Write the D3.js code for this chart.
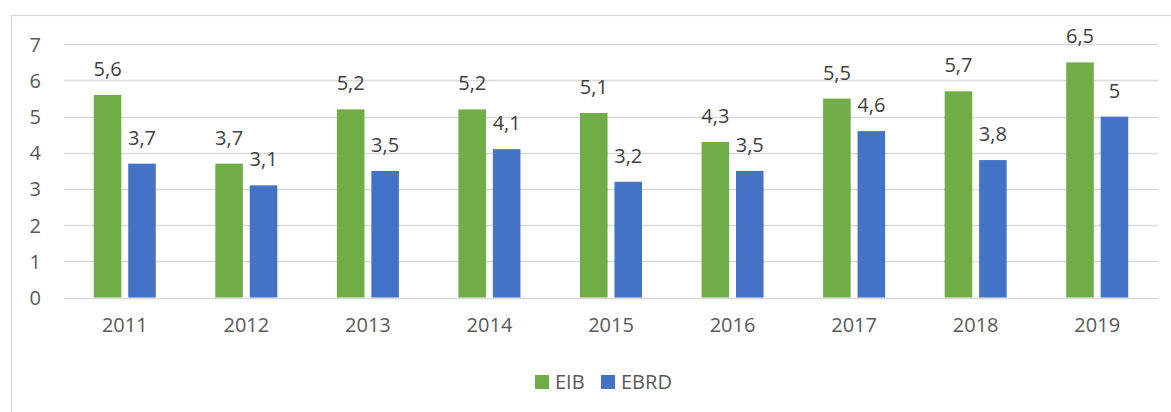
<!DOCTYPE html>
<html><head><meta charset="utf-8">
<script src="https://cdn.jsdelivr.net/npm/d3@7"></script>
<style>html,body{margin:0;padding:0;background:#fff;}svg{display:block;font-family:"Open Sans",sans-serif;}</style>
</head><body>
<script>
const categories = ["2011","2012","2013","2014","2015","2016","2017","2018","2019"];
const seriesNames = ["EIB","EBRD"];
const eib = [5.6,3.7,5.2,5.2,5.1,4.3,5.5,5.7,6.5];
const ebrd = [3.7,3.1,3.5,4.1,3.2,3.5,4.6,3.8,5.0];
const yTicks = [0,1,2,3,4,5,6,7];
const colors = ["#70AD47","#4472C4"];

const W = 1171, H = 412;
const svg = d3.select("body").append("svg").attr("width", W).attr("height", H);

// frame
svg.append("rect").attr("x",11.5).attr("y",15.5).attr("width",W+10).attr("height",H+10)
  .attr("fill","none").attr("stroke","#D9D9D9").attr("stroke-width",1.3);

const plotL = 64, plotR = 1158;
const y = d3.scaleLinear().domain([0,7]).range([297.5, 44.3]);
const x0 = d3.scaleBand().domain(categories).range([plotL, plotR]).paddingInner(0.49).paddingOuter(0.245);
const x1 = d3.scaleBand().domain(seriesNames).range([0, x0.bandwidth()]).paddingInner(0.2).paddingOuter(0);

// gridlines
svg.append("g").selectAll("line").data(yTicks).join("line")
  .attr("x1", plotL).attr("x2", plotR)
  .attr("y1", d => Math.round(y(d))+0.5).attr("y2", d => Math.round(y(d))+0.5)
  .attr("stroke","#D9D9D9").attr("stroke-width",1.3);

// y axis labels
const yAxis = d3.axisLeft(y).tickValues(yTicks).tickSize(0).tickPadding(0).tickFormat(d3.format("d"));
const gy = svg.append("g").attr("transform","translate(41,0)").call(yAxis);
gy.select(".domain").remove();
gy.selectAll("text").attr("fill","#595959").style("font-size","20px").style("font-family","'Open Sans',sans-serif").attr("dy","0.35em");

// x axis labels
const xAxis = d3.axisBottom(x0).tickSize(0).tickPadding(0);
const gx = svg.append("g").attr("transform","translate(0,318)").call(xAxis);
gx.select(".domain").remove();
gx.selectAll("text").attr("fill","#595959").style("font-size","20px").style("font-family","'Open Sans',sans-serif").attr("dy","0.71em");

const data = categories.map((c,i) => ({cat:c, vals:[{s:"EIB",v:eib[i]},{s:"EBRD",v:ebrd[i]}]}));
const fmt = v => String(v).replace(".", ",");

const groups = svg.append("g").selectAll("g").data(data).join("g")
  .attr("transform", d => `translate(${x0(d.cat)},0)`);
groups.selectAll("rect").data(d => d.vals).join("rect")
  .attr("x", d => x1(d.s)).attr("width", x1.bandwidth())
  .attr("y", d => y(d.v)).attr("height", d => y(0) - y(d.v))
  .attr("fill", (d,i) => colors[i]);
groups.selectAll("text").data(d => d.vals).join("text")
  .attr("x", d => x1(d.s) + x1.bandwidth()/2)
  .attr("y", d => y(d.v) - 19)
  .attr("text-anchor","middle").attr("fill","#404040")
  .style("font-size","20px").text(d => fmt(d.v));

// legend
const leg = svg.append("g");
const legItems = [{n:"EIB",x:535},{n:"EBRD",x:601}];
legItems.forEach((it,i) => {
  leg.append("rect").attr("x", it.x).attr("y",375).attr("width",14).attr("height",14).attr("fill",colors[i]);
  leg.append("text").attr("x", it.x+20).attr("y",382).attr("dy","0.35em").attr("fill","#595959")
    .style("font-size","20px").text(it.n);
});
</script>
</body></html>
